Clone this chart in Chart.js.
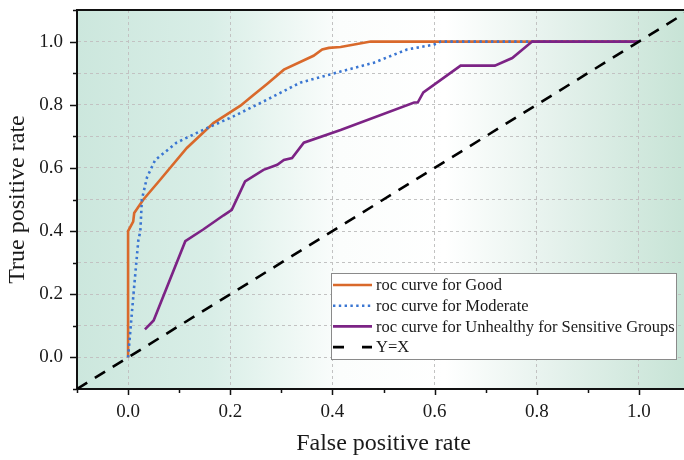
<!DOCTYPE html>
<html>
<head>
<meta charset="utf-8">
<title>ROC curves</title>
<script src="https://cdn.jsdelivr.net/npm/chart.js@4.4.0/dist/chart.umd.min.js"></script>
<style>
  html, body { margin: 0; padding: 0; background: #fff; overflow: hidden; }
  #wrap { width: 684px; height: 460px; overflow: hidden; }
</style>
</head>
<body>
<div id="wrap"><canvas id="rocChart" width="690" height="460"></canvas></div>
<script>
// ROC points: false positive rate / true positive rate for each class
const goodFpr = [0, 0, 0.01, 0.012, 0.03, 0.06, 0.115, 0.167, 0.22, 0.246, 0.272, 0.305, 0.363, 0.38, 0.393, 0.416, 0.475, 1.0];
const goodTpr = [0, 0.40, 0.43, 0.457, 0.50, 0.557, 0.663, 0.742, 0.797, 0.832, 0.866, 0.911, 0.955, 0.975, 0.98, 0.983, 1.0, 1.0];

const moderateFpr = [0, 0.01, 0.02, 0.024, 0.027, 0.037, 0.053, 0.095, 0.141, 0.206, 0.272, 0.337, 0.416, 0.481, 0.546, 0.598, 0.612, 1.0];
const moderateTpr = [0, 0.19, 0.37, 0.40, 0.50, 0.57, 0.625, 0.68, 0.716, 0.763, 0.816, 0.87, 0.905, 0.933, 0.975, 0.99, 1.0, 1.0];

const unhealthyFpr = [0.033, 0.05, 0.112, 0.147, 0.187, 0.203, 0.229, 0.265, 0.292, 0.305, 0.321, 0.344, 0.416, 0.56, 0.567, 0.578, 0.651, 0.718, 0.752, 0.791, 1.0];
const unhealthyTpr = [0.089, 0.117, 0.368, 0.405, 0.45, 0.467, 0.557, 0.594, 0.61, 0.625, 0.631, 0.68, 0.72, 0.807, 0.807, 0.839, 0.924, 0.924, 0.948, 1.0, 1.0];

const diagonal = [-0.1, 1.1];

const axisTickLabels = ['0.0', '0.2', '0.4', '0.6', '0.8', '1.0'];
const seriesLabels = ['roc curve for Good', 'roc curve for Moderate', 'roc curve for Unhealthy for Sensitive Groups', 'Y=X'];

const serif = '"Liberation Serif", "Times New Roman", serif';

function toPoints(xs, ys) {
  return xs.map((x, i) => ({ x: x, y: ys[i] }));
}

// index of a 0.1 step, major ticks every 0.2 between 0 and 1
function stepIndex(v) { return Math.round(v * 10); }
function isMajor(v) {
  const k = stepIndex(v);
  return k >= 0 && k <= 10 && k % 2 === 0;
}
function tickText(v) {
  return isMajor(v) ? axisTickLabels[stepIndex(v) / 2] : '';
}

// green - white - green wash behind the plot
const backdrop = {
  id: 'backdrop',
  beforeDraw(chart) {
    const { ctx, chartArea: a } = chart;
    const g = ctx.createLinearGradient(a.left, 0, a.right, 0);
    g.addColorStop(0, '#cce7dd');
    g.addColorStop(0.22, '#d9eee7');
    g.addColorStop(0.43, '#fbfdfc');
    g.addColorStop(0.6, '#ffffff');
    g.addColorStop(0.8, '#e2f0ea');
    g.addColorStop(1, '#c6e3d5');
    ctx.save();
    ctx.fillStyle = g;
    ctx.fillRect(a.left, a.top, a.right - a.left, a.bottom - a.top);
    ctx.restore();
  }
};

// top frame line plus outward major/minor tick marks
const frame = {
  id: 'frame',
  afterDraw(chart) {
    const { ctx, chartArea: a } = chart;
    const xs = chart.scales.x, ys = chart.scales.y;
    ctx.save();
    ctx.strokeStyle = '#111';
    ctx.lineWidth = 2;
    ctx.beginPath();
    ctx.moveTo(a.left - 1, a.top);
    ctx.lineTo(a.right, a.top);
    ctx.stroke();

    ctx.lineWidth = 1.5;
    ctx.beginPath();
    xs.ticks.forEach(t => {
      const px = Math.round(xs.getPixelForValue(t.value)) + 0.5;
      const len = isMajor(t.value) ? 6 : 4;
      ctx.moveTo(px, a.bottom);
      ctx.lineTo(px, a.bottom + len);
    });
    ys.ticks.forEach(t => {
      const py = Math.round(ys.getPixelForValue(t.value)) + 0.5;
      const len = isMajor(t.value) ? 7 : 4;
      ctx.moveTo(a.left, py);
      ctx.lineTo(a.left - len, py);
    });
    ctx.stroke();
    ctx.restore();
  }
};

// boxed legend in the lower right of the plot
const boxLegend = {
  id: 'boxLegend',
  afterDraw(chart) {
    const { ctx, chartArea: a } = chart;
    const sets = chart.data.datasets;
    const right = a.left + 599, bottom = a.bottom - 30;
    const w = 345, rowH = 20.7, h = 86;
    const left = right - w, top = bottom - h;
    ctx.save();
    ctx.fillStyle = '#fff';
    ctx.fillRect(left, top, w, h);
    ctx.strokeStyle = '#8a8a8a';
    ctx.lineWidth = 1;
    ctx.strokeRect(left + 0.5, top + 0.5, w, h);
    ctx.font = '16.5px ' + serif;
    ctx.textBaseline = 'middle';
    ctx.fillStyle = '#1a1a1a';
    sets.forEach((ds, i) => {
      const y = top + 12 + i * rowH;
      ctx.save();
      ctx.strokeStyle = ds.borderColor;
      ctx.lineWidth = ds.borderWidth;
      ctx.setLineDash(ds.legendDash || ds.borderDash || []);
      ctx.beginPath();
      ctx.moveTo(left + 2, y);
      ctx.lineTo(left + 41, y);
      ctx.stroke();
      ctx.restore();
      ctx.fillText(ds.label, left + 45, y + 1);
    });
    ctx.restore();
  }
};

new Chart(document.getElementById('rocChart'), {
  type: 'scatter',
  data: {
    datasets: [
      { label: seriesLabels[0], data: toPoints(goodFpr, goodTpr), borderColor: '#d9692b', borderWidth: 2.6, order: 4 },
      { label: seriesLabels[1], data: toPoints(moderateFpr, moderateTpr), borderColor: '#3a76d2', borderWidth: 2.6, borderDash: [2.4, 3.4], order: 3 },
      { label: seriesLabels[2], data: toPoints(unhealthyFpr, unhealthyTpr), borderColor: '#7c2385', borderWidth: 2.6, order: 2 },
      { label: seriesLabels[3], data: toPoints(diagonal, diagonal), borderColor: '#000', borderWidth: 2.6, borderDash: [12, 9], legendDash: [11, 18], order: 1 }
    ].map(ds => Object.assign({ showLine: true, pointRadius: 0, tension: 0, fill: false }, ds))
  },
  options: {
    responsive: false,
    animation: false,
    layout: { padding: { top: 10, right: 0, left: 0, bottom: 0 } },
    plugins: { legend: { display: false }, tooltip: { enabled: false } },
    scales: {
      x: {
        type: 'linear',
        min: -0.1,
        max: 1.1,
        afterFit(scale) {
          scale.height = 71;
          scale.paddingLeft = 0;
          scale.paddingRight = 0;
        },
        ticks: {
          stepSize: 0.1,
          autoSkip: false,
          maxRotation: 0,
          padding: 12,
          color: '#1a1a1a',
          font: { family: serif, size: 19 },
          callback: v => tickText(v)
        },
        grid: {
          drawTicks: false,
          lineWidth: 1,
          color: c => (c.tick && isMajor(c.tick.value) ? '#c2c2c2' : 'rgba(0,0,0,0)')
        },
        border: { display: true, color: '#111', width: 2, dash: [3, 3] },
        title: {
          display: true,
          text: 'False positive rate',
          color: '#1a1a1a',
          font: { family: serif, size: 24 },
          padding: { top: 0, bottom: 2 }
        }
      },
      y: {
        type: 'linear',
        min: -0.1,
        max: 1.1,
        afterFit(scale) {
          scale.width = 77;
          scale.paddingTop = 0;
          scale.paddingBottom = 0;
        },
        ticks: {
          stepSize: 0.1,
          autoSkip: false,
          padding: 14,
          color: '#1a1a1a',
          font: { family: serif, size: 19 },
          callback: v => tickText(v)
        },
        grid: {
          drawTicks: false,
          lineWidth: 1,
          color: c => {
            const k = c.tick ? stepIndex(c.tick.value) : -1;
            return k >= 0 && k <= 10 ? '#c2c2c2' : 'rgba(0,0,0,0)';
          }
        },
        border: { display: true, color: '#111', width: 2, dash: [3, 3] },
        title: {
          display: true,
          text: 'True positive rate',
          color: '#1a1a1a',
          font: { family: serif, size: 24 },
          padding: { top: 3, bottom: 0 }
        }
      }
    }
  },
  plugins: [backdrop, frame, boxLegend]
});
</script>
</body>
</html>
